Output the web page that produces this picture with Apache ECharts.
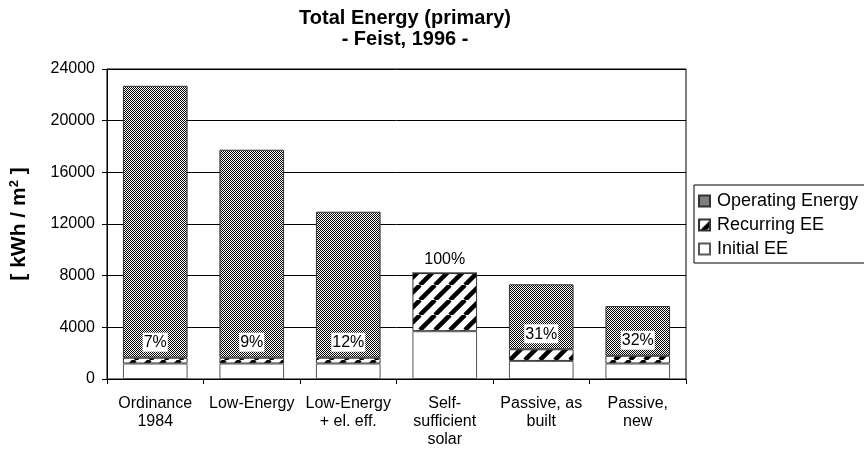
<!DOCTYPE html>
<html>
<head>
<meta charset="utf-8">
<script src="https://cdn.jsdelivr.net/npm/echarts@6/dist/echarts.min.js"></script>
<style>html,body{margin:0;padding:0;background:#fff;}#c{width:864px;height:453px;}</style>
</head>
<body>
<div id="c"></div>
<script>
const categories = ['Ordinance\n1984', 'Low-Energy', 'Low-Energy\n+ el. eff.', 'Self-\nsufficient\nsolar', 'Passive, as\nbuilt', 'Passive,\nnew'];
const initialEE = [1200, 1200, 1200, 3700, 1400, 1200];
const recurringEE = [450, 450, 450, 4500, 900, 600];
const operatingEnergy = [21050, 16100, 11300, 0, 5030, 3850];
const percentLabels = ['7%', '9%', '12%', '100%', '31%', '32%'];
const yTicks = [0, 4000, 8000, 12000, 16000, 20000, 24000];

function checker() {
  const c = document.createElement('canvas');
  c.width = 2; c.height = 2;
  const g = c.getContext('2d');
  g.fillStyle = '#fff'; g.fillRect(0, 0, 2, 2);
  g.fillStyle = '#000'; g.fillRect(0, 0, 1, 1); g.fillRect(1, 1, 1, 1);
  return c;
}
function stripes() {
  const s = 15;
  const c = document.createElement('canvas');
  c.width = s; c.height = s;
  const g = c.getContext('2d');
  g.fillStyle = '#fff'; g.fillRect(0, 0, s, s);
  g.strokeStyle = '#000'; g.lineWidth = 4.5;
  for (let k = -1; k <= 1; k++) {
    g.beginPath();
    g.moveTo(k * s, s);
    g.lineTo(k * s + s, 0);
    g.stroke();
  }
  return c;
}
const checkFill = { image: checker(), repeat: 'repeat' };
const stripeFill = { image: stripes(), repeat: 'repeat' };

const font = 'Liberation Sans, Arial, sans-serif';
const chart = echarts.init(document.getElementById('c'), null, { renderer: 'canvas' });
chart.setOption({
  animation: false,
  backgroundColor: '#fff',
  textStyle: { fontFamily: font, color: '#000' },
  title: {
    text: 'Total Energy (primary)\n- Feist, 1996 -',
    left: 400, top: 3, textAlign: 'center',
    textStyle: { fontFamily: font, fontSize: 20, fontWeight: 'bold', color: '#000', lineHeight: 21 }
  },
  legend: {
    orient: 'vertical', left: 694, top: 185,
    data: ['Operating Energy', 'Recurring EE', 'Initial EE'],
    itemWidth: 11, itemHeight: 11, itemGap: 6,
    borderColor: '#000', borderWidth: 1, padding: [7, 10, 5, 4],
    textStyle: { fontFamily: font, fontSize: 18, lineHeight: 18, color: '#000', padding: [0, 0, 0, 2] },
    icon: 'rect'
  },
  grid: { left: 105, right: 178, top: 69, bottom: 74, show: true, borderColor: '#000', borderWidth: 1 },
  xAxis: {
    type: 'category', data: categories,
    axisLine: { lineStyle: { color: '#000' } },
    axisTick: { show: true, length: 5, lineStyle: { color: '#000' } },
    axisLabel: { fontFamily: font, fontSize: 16, color: '#000', lineHeight: 18, margin: 16, interval: 0 }
  },
  yAxis: {
    type: 'value', min: yTicks[0], max: yTicks[yTicks.length - 1], interval: 4000,
    name: '[ kWh / m{sup|2} ]', nameLocation: 'middle', nameGap: 77, nameRotate: 90,
    nameTextStyle: {
      fontFamily: font, fontSize: 21, fontWeight: 'bold', color: '#000',
      rich: { sup: { fontFamily: font, fontSize: 13, fontWeight: 'bold', color: '#000', verticalAlign: 'top', padding: [0, 0, 9, 0] } }
    },
    axisLine: { show: true, lineStyle: { color: '#000' } },
    axisTick: { show: true, length: 5, lineStyle: { color: '#000' } },
    axisLabel: { fontFamily: font, fontSize: 16, color: '#000', margin: 12, formatter: v => String(v) },
    splitLine: { show: true, lineStyle: { color: '#000', width: 1 } }
  },
  series: [
    {
      name: 'Initial EE', type: 'bar', stack: 'e', barWidth: '67%',
      data: initialEE,
      itemStyle: { color: '#fff', borderColor: '#555', borderWidth: 1 }
    },
    {
      name: 'Recurring EE', type: 'bar', stack: 'e',
      data: recurringEE.map((v, i) => i === 3 ? {
        value: v,
        label: { show: true, position: 'top', distance: 5, formatter: percentLabels[i], fontFamily: font, fontSize: 16, color: '#000' }
      } : v),
      itemStyle: { color: stripeFill, borderColor: '#333', borderWidth: 1 }
    },
    {
      name: 'Operating Energy', type: 'bar', stack: 'e',
      data: operatingEnergy.map((v, i) => ({
        value: v,
        label: {
          show: i !== 3, position: 'insideBottom', distance: 6,
          formatter: percentLabels[i], fontFamily: font, fontSize: 16, color: '#000',
          backgroundColor: '#fff', padding: [2, 1, 1, 1]
        }
      })),
      itemStyle: { color: checkFill, borderColor: '#333', borderWidth: 1 }
    }
  ]
});
</script>
</body>
</html>
